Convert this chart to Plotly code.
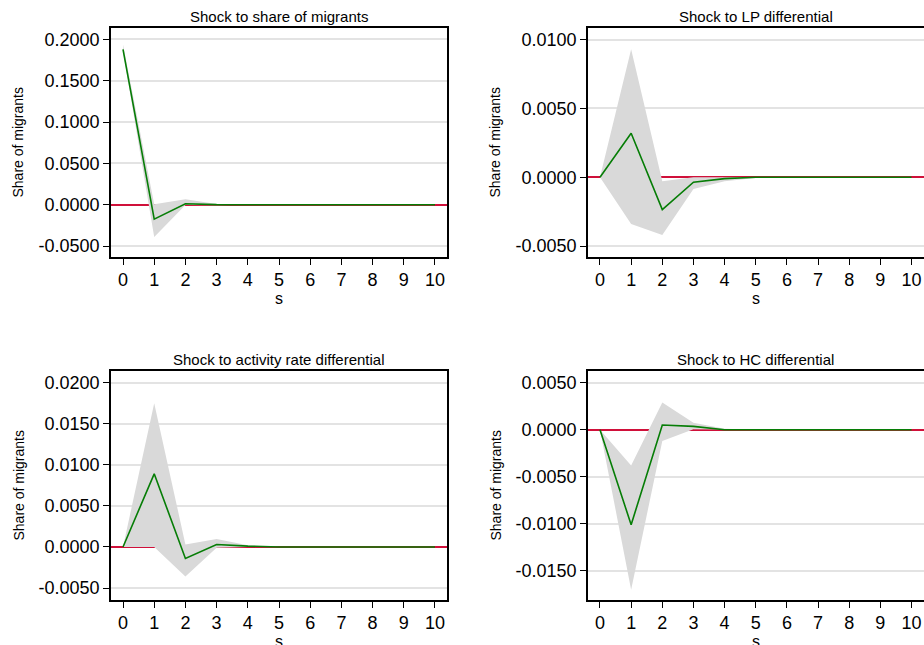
import plotly.graph_objects as go

steps = list(range(11))

titles = [
    "Shock to share of migrants",
    "Shock to LP differential",
    "Shock to activity rate differential",
    "Shock to HC differential",
]

# impulse responses and confidence bands
irf_share = [0.188, -0.0175, 0.0012, 0.0001, 0, 0, 0, 0, 0, 0, 0]
up_share = [0.194, 0.0005, 0.0065, 0.0008, 0.0001, 0, 0, 0, 0, 0, 0]
lo_share = [0.186, -0.039, -0.0005, -0.0006, -0.0001, 0, 0, 0, 0, 0, 0]

irf_lp = [0, 0.0032, -0.00235, -0.00036, -0.0001, 0, 0, 0, 0, 0, 0]
up_lp = [0, 0.0093, -0.0003, 0.0, 0.0, 0, 0, 0, 0, 0, 0]
lo_lp = [0, -0.0034, -0.0042, -0.00085, -0.0003, -0.00005, 0, 0, 0, 0, 0]

irf_act = [0, 0.0089, -0.0014, 0.0003, 0.0001, 0, 0, 0, 0, 0, 0]
up_act = [0, 0.0175, 0.0003, 0.00097, 0.0002, 0, 0, 0, 0, 0, 0]
lo_act = [0, 0.0, -0.0036, -0.0001, 0.0, 0, 0, 0, 0, 0, 0]

irf_hc = [0, -0.0101, 0.0005, 0.00035, 0, 0, 0, 0, 0, 0, 0]
up_hc = [0, -0.0038, 0.0029, 0.00075, 0.0001, 0, 0, 0, 0, 0, 0]
lo_hc = [0, -0.0170, -0.0012, 0.00005, 0, 0, 0, 0, 0, 0, 0]

# y tick values per panel
yticks_share = [-0.05, 0.0, 0.05, 0.1, 0.15, 0.2]
yticks_lp = [-0.005, 0.0, 0.005, 0.01]
yticks_act = [-0.005, 0.0, 0.005, 0.01, 0.015, 0.02]
yticks_hc = [-0.015, -0.01, -0.005, 0.0, 0.005]

panels = [
    (irf_share, up_share, lo_share, [-0.0633, 0.2139], yticks_share),
    (irf_lp, up_lp, lo_lp, [-0.0058, 0.01085], yticks_lp),
    (irf_act, up_act, lo_act, [-0.00646, 0.02142], yticks_act),
    (irf_hc, up_hc, lo_hc, [-0.0181, 0.00624], yticks_hc),
]

W, H = 924, 645
# plot boxes in pixels: left, right, top, bottom
boxes = [(111, 447, 28, 257), (588, 923.5, 28, 257),
         (111, 447, 371, 600), (588, 923.5, 371, 600)]

font = "Liberation Sans, Arial, sans-serif"
fig = go.Figure()
annotations = []

for i, ((irf, up, lo, yr, yt), (l, r, t, b)) in enumerate(zip(panels, boxes)):
    n = "" if i == 0 else str(i + 1)
    xa, ya = "x" + n, "y" + n
    fig.add_trace(go.Scatter(
        x=steps + steps[::-1], y=up + lo[::-1], fill="toself",
        fillcolor="#d9d9d9", line=dict(width=0), mode="lines",
        xaxis=xa, yaxis=ya, showlegend=False, hoverinfo="skip"))
    fig.add_trace(go.Scatter(
        x=steps, y=irf, mode="lines", line=dict(color="#067d06", width=1.6),
        xaxis=xa, yaxis=ya, showlegend=False))

    fig.layout["xaxis" + n] = dict(
        domain=[l / W, min(r / W, 1)], anchor=ya, range=[-0.385, 10.385],
        tickvals=steps, ticks="outside", ticklen=6, tickcolor="black",
        showline=True, linecolor="black", linewidth=1.5, mirror=True,
        showgrid=False, zeroline=False,
        tickfont=dict(family=font, size=18, color="black"))
    fig.layout["yaxis" + n] = dict(
        domain=[1 - b / H, 1 - t / H], anchor=xa, range=yr,
        tickvals=yt, ticktext=[f"{v:.4f}" for v in yt],
        ticks="outside", ticklen=6,
        tickcolor="black", showline=True, linecolor="black", linewidth=1.5,
        mirror=True, showgrid=True, gridcolor="#e3e3e3", gridwidth=1.5,
        zeroline=True, zerolinecolor="#d0103a", zerolinewidth=1.5,
        tickfont=dict(family=font, size=18, color="black"))

    cx = (l + r) / 2
    annotations.append(dict(text=titles[i], x=cx / W, y=1 - (t - 12) / H,
                            xref="paper", yref="paper", showarrow=False,
                            xanchor="center", yanchor="middle",
                            font=dict(family=font, size=15, color="black")))
    annotations.append(dict(text="Share of migrants", x=(l - 93) / W,
                            y=1 - (t + b) / 2 / H, textangle=-90,
                            xref="paper", yref="paper", showarrow=False,
                            xanchor="center", yanchor="middle",
                            font=dict(family=font, size=14, color="black")))
    annotations.append(dict(text="s", x=cx / W, y=1 - (b + 41) / H,
                            xref="paper", yref="paper", showarrow=False,
                            xanchor="center", yanchor="middle",
                            font=dict(family=font, size=16, color="black")))

fig.update_layout(
    width=W, height=H, margin=dict(l=0, r=0, t=0, b=0),
    paper_bgcolor="white", plot_bgcolor="white",
    annotations=annotations)

# drop the page's default body margin so the figure fills the window
fig.write_html("out.html", config={"displayModeBar": False}, post_script=(
    "document.body.style.margin='0';"
    "document.body.style.overflow='hidden';"))
